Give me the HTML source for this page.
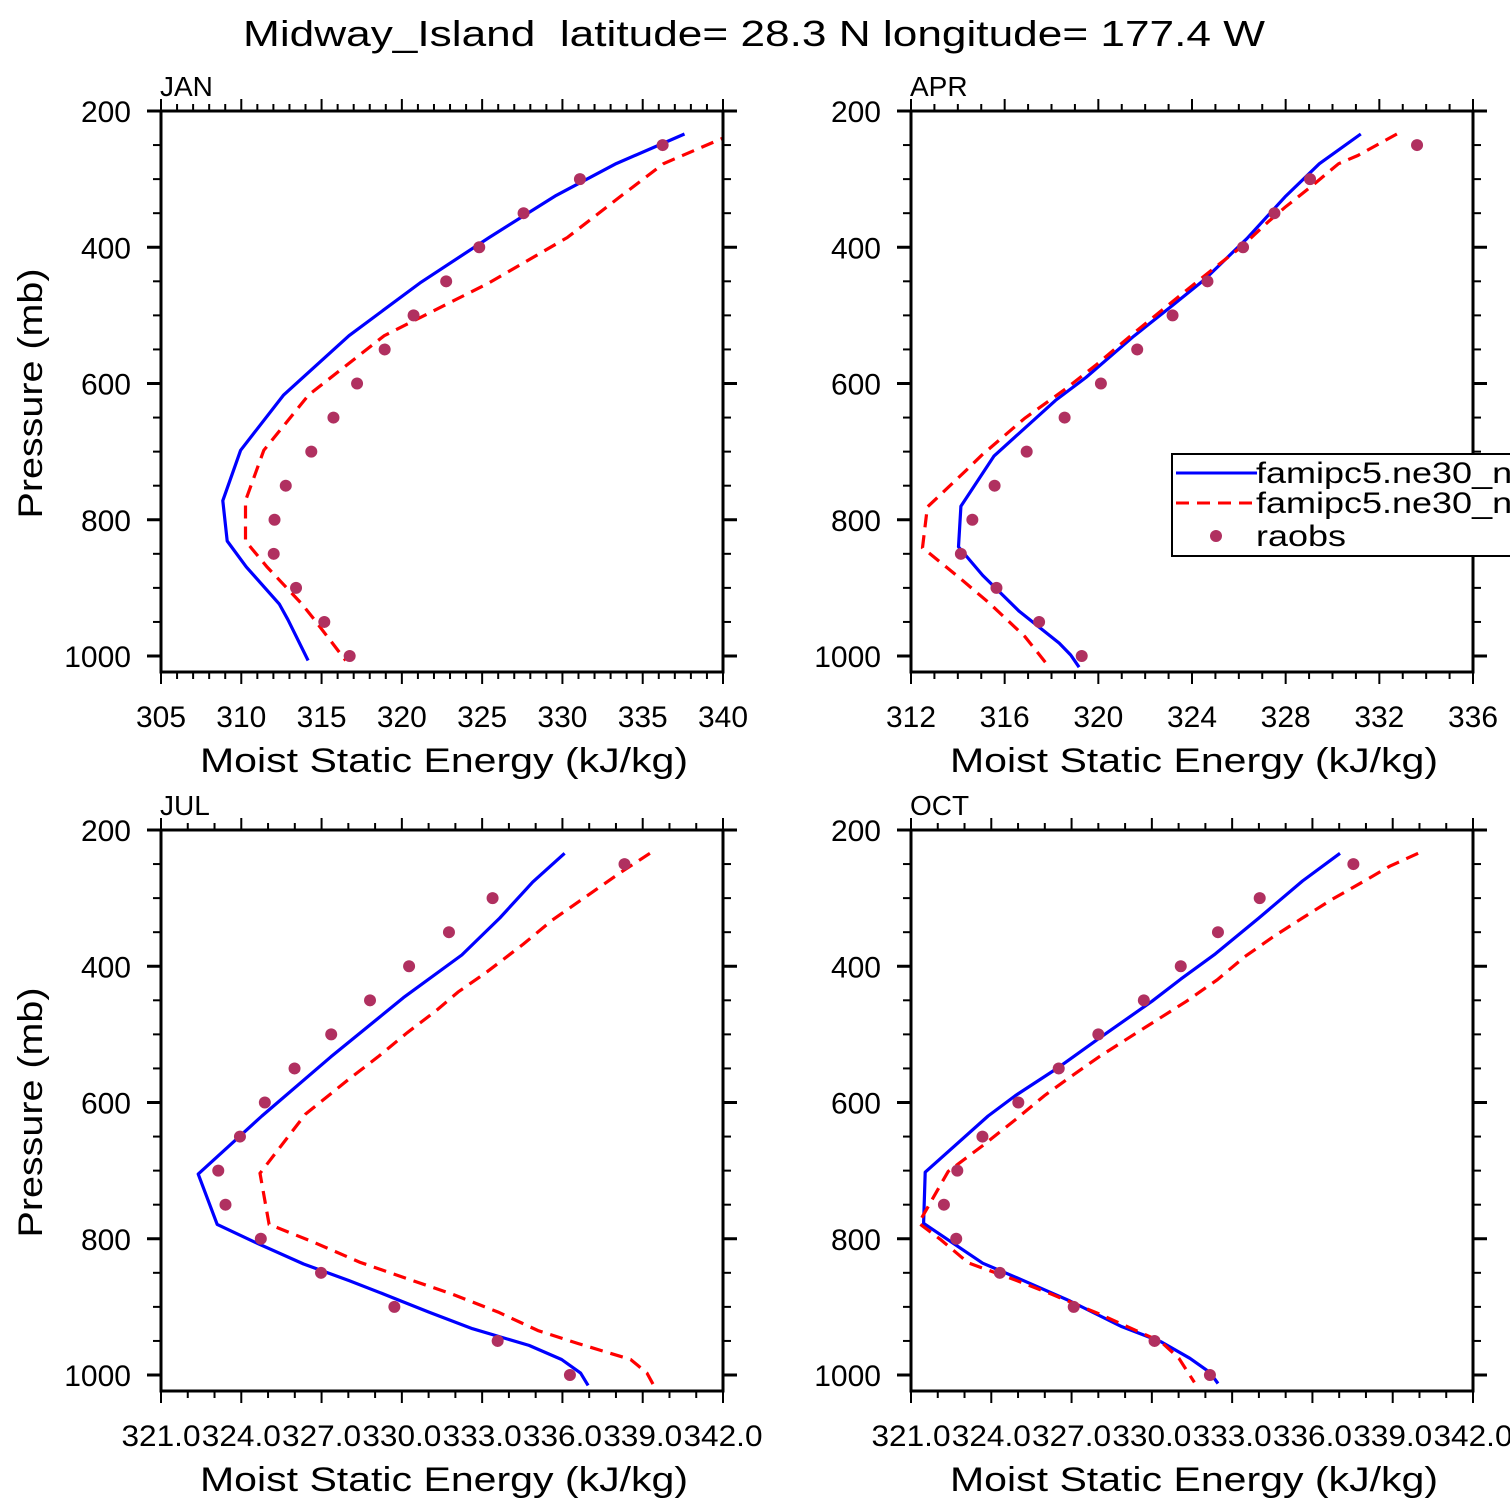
<!DOCTYPE html>
<html><head><meta charset="utf-8"><title>Midway Island MSE profiles</title>
<style>
html,body{margin:0;padding:0;background:#fff;}
svg{display:block;font-family:"Liberation Sans","DejaVu Sans",sans-serif;}
</style></head>
<body>
<svg id="chart" width="1510" height="1510" viewBox="0 0 1510 1510" xmlns="http://www.w3.org/2000/svg">
<rect x="0" y="0" width="1510" height="1510" fill="#fff"/>
<text x="243" y="46" font-size="36" textLength="1022" lengthAdjust="spacingAndGlyphs" fill="#000" style="white-space:pre" xml:space="preserve">Midway_Island  latitude= 28.3 N longitude= 177.4 W</text>
</svg>
<script>
// ---------- data ----------
const panelNames = ["JAN","APR","JUL","OCT"];
const xMins = [305, 312, 321.03, 321.03];
const xMaxs = [340, 336, 342.03, 342.03];
const xSteps = [5, 4, 3, 3];
const xTickLabels = [
  ["305","310","315","320","325","330","335","340"],
  ["312","316","320","324","328","332","336"],
  ["321.0","324.0","327.0","330.0","333.0","336.0","339.0","342.0"],
  ["321.0","324.0","327.0","330.0","333.0","336.0","339.0","342.0"]
];
const yTickValues = [200,400,600,800,1000];
const obsPressure = [250,300,350,400,450,500,550,600,650,700,750,800,850,900,950,1000];

// JAN
const janBlueP = [233.8,277.2,323.9,385.8,452.6,529.9,616.7,698.1,772.0,831.2,869.2,923.5,946.9,1006.6];
const janBlueV = [337.60,333.35,329.61,325.43,321.12,316.71,312.64,309.96,308.85,309.12,310.31,312.36,312.91,314.16];
const janRedP  = [233.8,277.2,323.9,385.8,452.6,529.9,616.7,698.1,772.0,831.2,869.2,923.5,946.9,1006.6];
const janRedV  = [340.6,336.3,333.7,330.3,325.4,318.9,314.2,311.4,310.26,310.26,311.6,313.77,314.56,316.5];
const janObs   = [336.24,331.09,327.58,324.82,322.76,320.73,318.93,317.21,315.74,314.36,312.77,312.07,312.02,313.41,315.17,316.75];

// APR
const aprBlueP = [233.8,277.3,326.1,387.5,447.3,488,530.4,591.2,624.8,706.3,780.2,839.9,881.7,934.4,981.1,998.5,1016.4];
const aprBlueV = [331.21,329.44,327.97,326.34,324.54,323.07,321.52,319.47,318.17,315.55,314.13,314.03,315.06,316.62,318.33,318.82,319.18];
const aprRedP  = [233.8,265.3,277.3,309.9,341.3,363.1,398.4,441.8,482.6,526,572.2,607.5,650.9,705.2,726.9,781.3,841,884.4,922.5,971.4,1013.7];
const aprRedV  = [332.75,331.08,330.26,329.12,327.97,327.24,326.14,324.54,323.07,321.52,319.92,318.62,316.86,315.02,314.37,312.70,312.49,314.04,315.35,316.86,317.84];
const aprObs   = [333.61,329.04,327.52,326.18,324.66,323.17,321.66,320.11,318.56,316.94,315.57,314.62,314.13,315.65,317.47,319.29];

// JUL
const julBlueP = [234.2,276.5,329.2,383.5,446.0,532.9,619.8,705.1,778.9,807.2,837.0,861.5,882.1,907.6,932.1,956.5,977.2,997.2,1015.2];
const julBlueV = [336.11,334.92,333.69,332.27,330.09,327.38,324.80,322.42,323.13,324.66,326.36,328.06,329.41,331.04,332.67,334.78,336.00,336.71,336.99];
const julRedP  = [234.2,261.3,302.1,331.9,367.2,408.0,437.8,465.0,497.6,532.9,565.5,617.1,704.0,778.9,804.5,834.4,858.7,880.5,907.6,934.8,953.8,977.2,997.2,1015.2];
const julRedV  = [339.30,338.24,336.75,335.66,334.58,333.22,332.13,331.32,330.23,329.14,328.06,326.43,324.73,325.07,326.70,328.46,330.23,331.86,333.63,335.12,336.61,338.58,339.19,339.44];
const julObs   = [338.35,333.42,331.79,330.30,328.84,327.39,326.02,324.91,323.98,323.17,323.44,324.76,327.01,329.75,333.61,336.31];

// OCT
const octBlueP = [234.2,274.9,329.2,381.9,418.8,451.4,505.7,548.1,589.9,619.8,702.3,777.3,835.9,858.7,891.4,928.3,951.1,975.5,996.2,1012.5];
const octBlueV = [337.06,335.66,334.03,332.40,331.11,330.03,328.06,326.56,324.93,323.91,321.56,321.50,323.71,325.07,326.97,328.87,330.37,331.45,332.20,332.50];
const octRedP  = [234.2,253.2,274.9,302.1,329.2,356.4,386.3,419.9,451.4,478.6,505.7,532.9,562.8,589.9,625.2,663.2,701.2,766.4,777.3,801.7,835.4,858.7,881.5,910.3,929.4,951.1,975.5,1010.8];
const octRedV  = [339.98,338.92,337.97,336.75,335.66,334.58,333.49,332.47,331.32,330.23,329.14,328.06,326.97,326.02,324.93,323.71,322.42,321.47,321.33,322.15,323.17,324.80,326.29,328.06,329.14,330.37,331.04,331.62];
const octObs   = [337.56,334.06,332.50,331.11,329.73,328.03,326.55,325.04,323.70,322.76,322.26,322.72,324.35,327.11,330.13,332.20];

const blueP = [janBlueP, aprBlueP, julBlueP, octBlueP];
const blueV = [janBlueV, aprBlueV, julBlueV, octBlueV];
const redP  = [janRedP, aprRedP, julRedP, octRedP];
const redV  = [janRedV, aprRedV, julRedV, octRedV];
const obsV  = [janObs, aprObs, julObs, octObs];

// ---------- layout ----------
const NS = "http://www.w3.org/2000/svg";
const svg = document.getElementById("chart");
const panelBoxes = [
  {x0:161, x1:723, y0:111, y1:672},
  {x0:911, x1:1473, y0:111, y1:672},
  {x0:161, x1:723, y0:830, y1:1391},
  {x0:911, x1:1473, y0:830, y1:1391}
];
const PX_PER_MB = 545/800;

function mk(tag, attrs, parent){
  const e = document.createElementNS(NS, tag);
  for (const k in attrs) e.setAttribute(k, attrs[k]);
  (parent||svg).appendChild(e);
  return e;
}

for (let i = 0; i < 4; i++) {
  const b = panelBoxes[i];
  const xmin = xMins[i], xmax = xMaxs[i];
  const xs = v => b.x0 + (v - xmin) / (xmax - xmin) * (b.x1 - b.x0);
  const ys = p => b.y0 + (p - 200) * PX_PER_MB;

  const g = mk("g", {});
  
  

  const clipId = "clip" + i;
  const cp = mk("clipPath", {id: clipId}, g);
  mk("rect", {x:b.x0, y:b.y0, width:b.x1-b.x0, height:b.y1-b.y0}, cp);

  const t = mk("text", {x:b.x0-1, y:b.y0-15, "font-size":28, fill:"#000"}, g);
  
  
  t.textContent = panelNames[i];

  const tickG = mk("g", {stroke:"#000", "stroke-width":2}, g);
  
  
  const nMinor = Math.round(xmax - xmin);
  for (let k = 0; k <= nMinor; k++) {
    const v = xmin + k;
    const x = xs(v);
    const major = (k % xSteps[i]) === 0;
    const L = major ? 12 : 7;
    mk("line", {x1:x, x2:x, y1:b.y1, y2:b.y1+L}, tickG);
    mk("line", {x1:x, x2:x, y1:b.y0, y2:b.y0-L}, tickG);
  }
  const yTickG = mk("g", {stroke:"#000", "stroke-width":2}, g);
  
  
  for (let p = 200; p <= 1000; p += 50) {
    const y = ys(p);
    const major = (p % 200) === 0;
    const L = major ? 14 : 8;
    mk("line", {x1:b.x0, x2:b.x0-L, y1:y, y2:y, "stroke-width": major?3:2}, yTickG);
    mk("line", {x1:b.x1, x2:b.x1+L, y1:y, y2:y, "stroke-width": major?3:2}, yTickG);
  }

  xTickLabels[i].forEach((lab, k) => {
    const v = xmin + k * xSteps[i];
    const tl = mk("text", {x:xs(v), y:b.y1+55, "font-size":30, "text-anchor":"middle", fill:"#000"}, g);
    tl.setAttribute("textLength", lab.length >= 5 ? 79 : 50);
    tl.setAttribute("lengthAdjust","spacingAndGlyphs");
    
    
    tl.textContent = lab;
  });
  yTickValues.forEach(p => {
    const tl = mk("text", {x:b.x0-30, y:ys(p)+11, "font-size":30, "text-anchor":"end", fill:"#000"}, g);
    
    
    tl.textContent = String(p);
  });

  const xt = mk("text", {x:(b.x0+b.x1)/2+2, y:b.y1+100, "font-size":34, "text-anchor":"middle", textLength:488, lengthAdjust:"spacingAndGlyphs", fill:"#000"}, g);
  
  
  xt.textContent = "Moist Static Energy (kJ/kg)";
  if (i % 2 === 0) {
    const yc = (b.y0 + b.y1) / 2 + 2;
    const yt = mk("text", {x:0, y:0, "font-size":34, "text-anchor":"middle", textLength:250, lengthAdjust:"spacingAndGlyphs", fill:"#000", transform:"translate(42," + yc + ") rotate(-90)"}, g);
    
    
    yt.textContent = "Pressure (mb)";
  }

  const dataG = mk("g", {"clip-path":"url(#" + clipId + ")"}, g);
  const bl = mk("polyline", {points: blueP[i].map((p,k)=>xs(blueV[i][k]).toFixed(1)+","+ys(p).toFixed(1)).join(" "), fill:"none", stroke:"#0000ff", "stroke-width":3.2, "stroke-linejoin":"round"}, dataG);
  
  
  const rl = mk("polyline", {points: redP[i].map((p,k)=>xs(redV[i][k]).toFixed(1)+","+ys(p).toFixed(1)).join(" "), fill:"none", stroke:"#ff0000", "stroke-width":3.2, "stroke-dasharray":"13 8"}, dataG);
  
  
  obsPressure.forEach((p,k) => {
    const c = mk("circle", {cx:xs(obsV[i][k]), cy:ys(p), r:6, fill:"#b03060"}, dataG);
    
    
  });

  const fr = mk("rect", {x:b.x0, y:b.y0, width:b.x1-b.x0, height:b.y1-b.y0, fill:"none", stroke:"#000", "stroke-width":3}, g);
  
  
}

// legend in APR panel
const lg = mk("g", {});


mk("rect", {x:1172, y:454, width:360, height:102, fill:"#fff", stroke:"#000", "stroke-width":2}, lg);
const l1 = mk("line", {x1:1176, x2:1257, y1:473, y2:473, stroke:"#0000ff", "stroke-width":3}, lg);


const l2 = mk("line", {x1:1176, x2:1257, y1:503, y2:503, stroke:"#ff0000", "stroke-width":3, "stroke-dasharray":"13 8"}, lg);


const l3 = mk("circle", {cx:1216, cy:536, r:6, fill:"#b03060"}, lg);


[["famipc5.ne30_ne30_control",483],["famipc5.ne30_ne30_test",513],["raobs",546]].forEach(([s,y]) => {
  const t = mk("text", {x:0, y:0, "font-size":30, fill:"#000", transform:"translate(1256," + y + ") scale(1.2,1)"}, lg);
  
  
  t.textContent = s;
});
</script>
</body></html>
